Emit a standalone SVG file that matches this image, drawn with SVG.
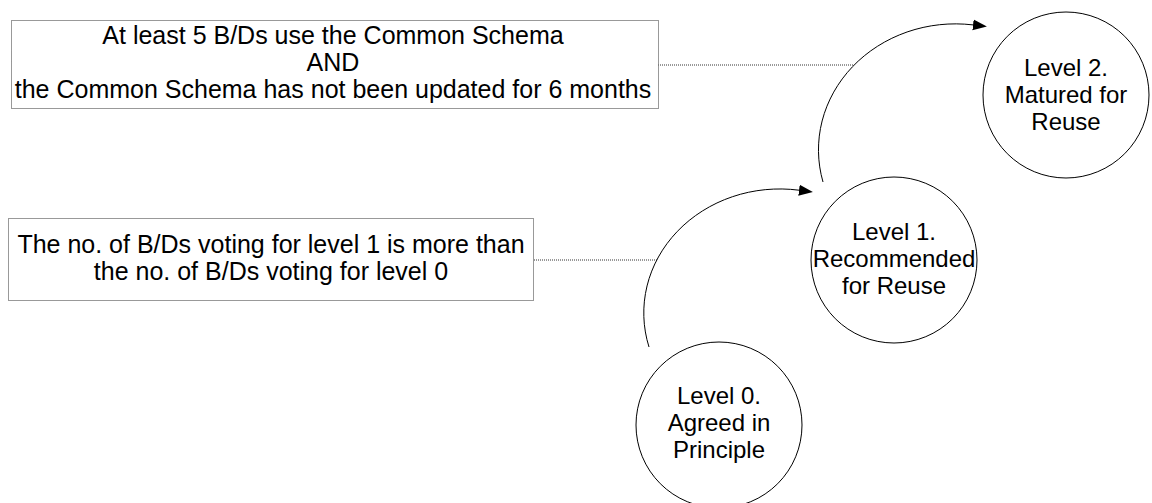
<svg xmlns="http://www.w3.org/2000/svg" width="1152" height="503" viewBox="0 0 1152 503">
<style>
text{font-family:"Liberation Sans",Arial,sans-serif;font-size:24px;fill:#000;text-anchor:middle}
.bt{font-size:25px}
.box{fill:#fff;stroke:#333;stroke-width:1;stroke-dasharray:1 1}
.node{fill:#fff;stroke:#000;stroke-width:1}
.conn{fill:none;stroke:#333;stroke-width:1;stroke-dasharray:1 1}
.arc{fill:none;stroke:#000;stroke-width:1}
</style>
<defs>
<marker id="ah" markerWidth="16" markerHeight="12" refX="0" refY="6" orient="auto" markerUnits="userSpaceOnUse">
<path d="M0,0.5 L14,6 L0,11.5 Z" fill="#000"/>
</marker>
</defs>
<rect width="1152" height="503" fill="#fff"/>
<g id="connectors">
<line class="conn" x1="658" y1="65" x2="853" y2="65"/>
<line class="conn" x1="534" y1="260" x2="657" y2="260"/>
<path class="arc" d="M649,347 A136,124 0 0 1 799,190.2" marker-end="url(#ah)"/>
<path class="arc" d="M823,182 A137,126 0 0 1 973,24.9" marker-end="url(#ah)"/>
</g>
<g id="cond1">
<rect class="box" x="11.5" y="20.5" width="647" height="88"/>
<text class="bt" x="333" y="44">At least 5 B/Ds use the Common Schema</text>
<text class="bt" x="333" y="71">AND</text>
<text class="bt" x="333" y="98">the Common Schema has not been updated for 6 months</text>
</g>
<g id="cond0">
<rect class="box" x="8.5" y="218.5" width="525" height="82"/>
<text class="bt" x="271" y="253">The no. of B/Ds voting for level 1 is more than</text>
<text class="bt" x="271" y="280">the no. of B/Ds voting for level 0</text>
</g>
<g id="level2">
<circle class="node" cx="1066" cy="95" r="83"/>
<text x="1066" y="76">Level 2.</text>
<text x="1066" y="103">Matured for</text>
<text x="1066" y="130">Reuse</text>
</g>
<g id="level1">
<circle class="node" cx="894" cy="260" r="83"/>
<text x="894" y="240">Level 1.</text>
<text x="894" y="267">Recommended</text>
<text x="894" y="294">for Reuse</text>
</g>
<g id="level0">
<circle class="node" cx="719" cy="425" r="83"/>
<text x="719" y="404">Level 0.</text>
<text x="719" y="431">Agreed in</text>
<text x="719" y="458">Principle</text>
</g>
</svg>
